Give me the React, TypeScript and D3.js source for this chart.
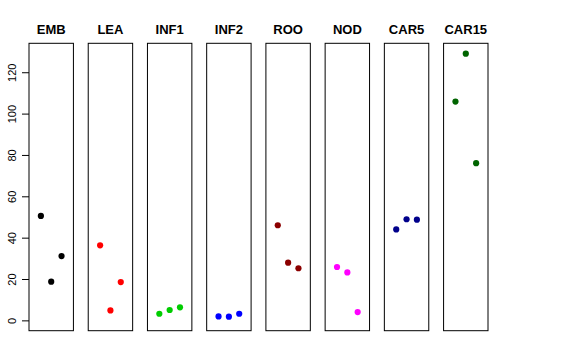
import React, { useRef, useEffect } from "react";
import * as d3 from "d3";

const tissues = ["EMB", "LEA", "INF1", "INF2", "ROO", "NOD", "CAR5", "CAR15"];
const colors = ["#000000", "#FF0000", "#00CD00", "#0000FF", "#8B0000", "#FF00FF", "#00008B", "#006400"];
const reps = [1, 2, 3];
const embVals = [50.5, 18.7, 31.1];
const leaVals = [36.3, 4.8, 18.5];
const inf1Vals = [3.2, 5.0, 6.3];
const inf2Vals = [1.9, 1.8, 3.2];
const rooVals = [46.0, 27.9, 25.2];
const nodVals = [25.8, 23.2, 4.0];
const car5Vals = [44.0, 48.9, 48.7];
const car15Vals = [105.8, 129.0, 76.0];
const yTicks = [0, 20, 40, 60, 80, 100, 120];

const values = [embVals, leaVals, inf1Vals, inf2Vals, rooVals, nodVals, car5Vals, car15Vals];

const App = () => {
  const ref = useRef<SVGSVGElement>(null);

  useEffect(() => {
    const svg = d3.select(ref.current);
    svg.selectAll("*").remove();
    const top = 43.3;
    const bottom = 330.7;

    const panel = d3.scaleBand<string>()
      .domain(tissues)
      .range([29, 488])
      .paddingInner(0.25);

    const y = d3.scaleLinear().domain([-5, 134]).range([bottom, top]);

    // y axis on the first panel, labels rotated like base R
    const ax = svg.append("g")
      .attr("transform", `translate(${panel("EMB")},0)`)
      .call(d3.axisLeft(y).tickValues(yTicks).tickSize(7).tickFormat(d3.format("d")));
    ax.select(".domain").remove();
    ax.selectAll("line").attr("stroke", "#000");
    ax.selectAll(".tick text")
      .attr("font-family", "Liberation Sans, Arial, sans-serif")
      .attr("font-size", 11)
      .attr("fill", "#000")
      .attr("text-anchor", "middle")
      .attr("x", 0)
      .attr("y", 0)
      .attr("dy", 0)
      .attr("transform", "translate(-13,0) rotate(-90)");

    tissues.forEach((name, i) => {
      const x0 = panel(name)!;
      const w = panel.bandwidth();
      const x = d3.scaleLinear().domain([-0.15, 4.15]).range([x0, x0 + w]);
      const g = svg.append("g");
      g.append("rect")
        .attr("x", x0)
        .attr("y", top)
        .attr("width", w)
        .attr("height", bottom - top)
        .attr("fill", "none")
        .attr("stroke", "#000");
      g.append("text")
        .attr("x", x0 + w / 2)
        .attr("y", 34)
        .attr("text-anchor", "middle")
        .attr("font-family", "Liberation Sans, Arial, sans-serif")
        .attr("font-weight", "bold")
        .attr("font-size", 13)
        .text(name);
      g.selectAll("circle")
        .data(values[i])
        .join("circle")
        .attr("cx", (_, j) => x(reps[j]))
        .attr("cy", d => y(d))
        .attr("r", 3.1)
        .attr("fill", colors[i]);
    });
  }, []);

  return (
    <div style={{ position: "absolute", left: 0, top: 0 }}>
      <svg ref={ref} width={576} height={360} style={{ display: "block", background: "#fff" }} />
    </div>
  );
};

export default App;
